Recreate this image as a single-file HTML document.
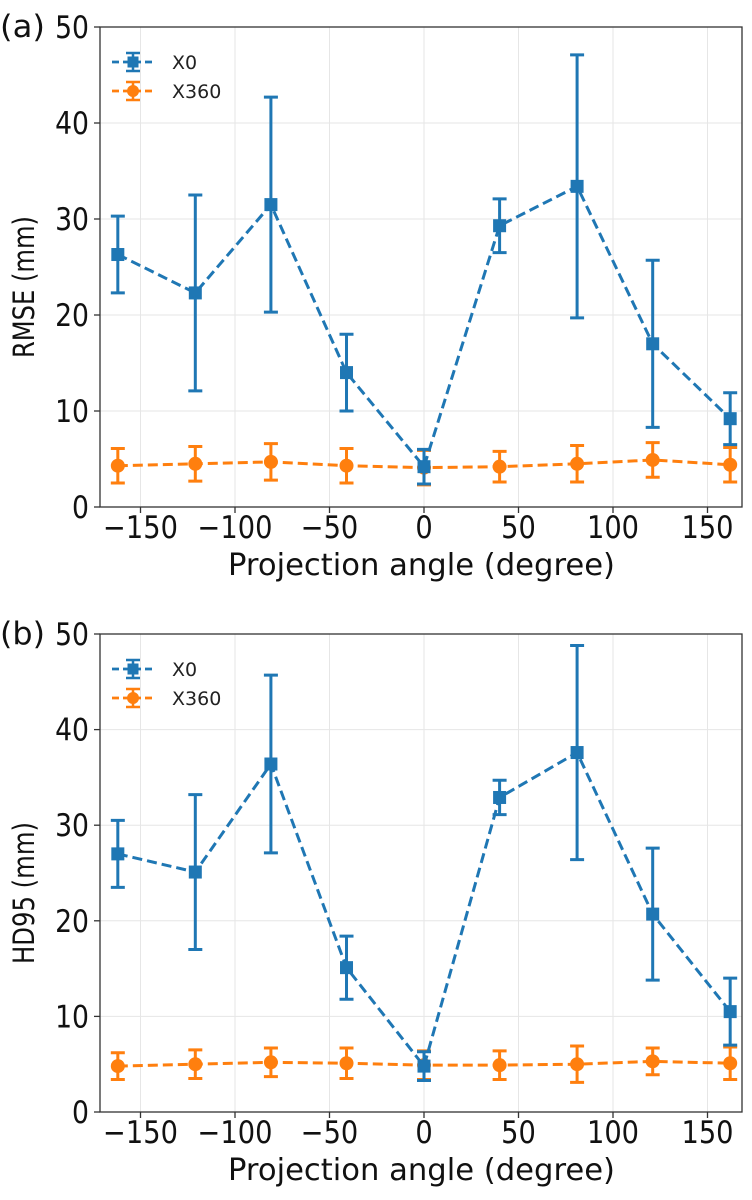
<!DOCTYPE html>
<html><head><meta charset="utf-8"><style>
body{margin:0;background:#fff}
svg{display:block;font-family:"DejaVu Sans","Liberation Sans",sans-serif}
</style></head><body>
<svg id="c" width="752" height="1200"></svg>
<script>
const angles=[-162,-121,-81,-41,0,40,81,121,162];
const rmseX0=[26.3,22.3,31.5,14.0,4.2,29.3,33.4,17.0,9.2];
const rmseX0Err=[4.0,10.2,11.2,4.0,1.8,2.8,13.7,8.7,2.7];
const rmseX360=[4.3,4.5,4.7,4.3,4.1,4.2,4.5,4.9,4.4];
const rmseX360Err=[1.8,1.8,1.9,1.8,1.8,1.6,1.9,1.8,1.8];
const hdX0=[27.0,25.1,36.4,15.1,4.8,32.9,37.6,20.7,10.5];
const hdX0Err=[3.5,8.1,9.3,3.3,1.5,1.8,11.2,6.9,3.5];
const hdX360=[4.8,5.0,5.2,5.1,4.9,4.9,5.0,5.3,5.1];
const hdX360Err=[1.4,1.5,1.5,1.6,1.5,1.5,1.9,1.4,1.7];
const xTicks=[-150,-100,-50,0,50,100,150];
const xTickLabels=["\u2212150","\u2212100","\u221250","0","50","100","150"];
const yTicks=[0,10,20,30,40,50];
const NS="http://www.w3.org/2000/svg";
const svg=document.getElementById('c');
function mk(t,a,p){const e=document.createElementNS(NS,t);for(const k in a)e.setAttribute(k,a[k]);(p||svg).appendChild(e);return e;}
const L=100,R=742,x0=424,pxDeg=1.89;
function X(v){return x0+v*pxDeg;}
function panel(top,bot,tag,ylabel,ylen,s1,e1,s2,e2,pname){
  const g=mk('g',{});
  
  
  const Y=v=>bot-(v/50)*(bot-top);
  xTicks.forEach((t,i)=>{
    const gl=mk('line',{x1:X(t),x2:X(t),y1:top,y2:bot,stroke:'#e6e6e6','stroke-width':1},g);
    
    mk('line',{x1:X(t),x2:X(t),y1:bot,y2:bot+6,stroke:'#333','stroke-width':1.3},g);
    const wg=mk('g',{transform:`translate(${X(t)},${bot+31}) scale(0.88,1)`},g);
    const tx=mk('text',{x:0,y:0,'font-size':31,'text-anchor':'middle',fill:'#111'},wg);tx.textContent=xTickLabels[i];
    
  });
  yTicks.forEach(t=>{
    const gl=mk('line',{x1:L,x2:R,y1:Y(t),y2:Y(t),stroke:'#e6e6e6','stroke-width':1},g);
    
    mk('line',{x1:L-6,x2:L,y1:Y(t),y2:Y(t),stroke:'#333','stroke-width':1.3},g);
    const wg=mk('g',{transform:`translate(${L-11},${Y(t)+11}) scale(0.86,1)`},g);
    const tx=mk('text',{x:0,y:0,'font-size':31,'text-anchor':'end',fill:'#111'},wg);tx.textContent=t;
    
  });
  const fr=mk('rect',{x:L,y:top,width:R-L,height:bot-top,fill:'none',stroke:'#333','stroke-width':1.3},g);
  
  const xl=mk('text',{x:228,y:bot+68,'font-size':30,fill:'#111',textLength:387,lengthAdjust:'spacingAndGlyphs'},g);xl.textContent='Projection angle (degree)';
  
  const cy=(top+bot)/2+20;
  const yl=mk('text',{x:34,y:cy,'font-size':29,'text-anchor':'middle',fill:'#111',textLength:ylen,lengthAdjust:'spacingAndGlyphs',transform:`rotate(-90 34 ${cy})`},g);yl.textContent=ylabel;
  
  const tg=mk('text',{x:0,y:top+10,'font-size':31,fill:'#111',textLength:45,lengthAdjust:'spacingAndGlyphs'},g);tg.textContent=tag;
  
  function series(vals,errs,color,marker,name){
    const sg=mk('g',{},g);
    
    vals.forEach((v,i)=>{
      const x=X(angles[i]);
      const eb=mk('path',{d:`M${x},${Y(v-errs[i])}V${Y(v+errs[i])}M${x-7},${Y(v-errs[i])}H${x+7}M${x-7},${Y(v+errs[i])}H${x+7}`,stroke:color,'stroke-width':3,fill:'none'},sg);
      
    });
    const pl=mk('polyline',{points:vals.map((v,i)=>X(angles[i])+','+Y(v)).join(' '),fill:'none',stroke:color,'stroke-width':3,'stroke-dasharray':'10,5'},sg);
    
    vals.forEach((v,i)=>{
      const x=X(angles[i]);let m;
      if(marker==='s')m=mk('rect',{x:x-6.5,y:Y(v)-6.5,width:13,height:13,fill:color},sg);
      else m=mk('circle',{cx:x,cy:Y(v),r:7,fill:color},sg);
      
    });
  }
  series(s2,e2,'#ff7f0e','o','series-x360');
  series(s1,e1,'#1f77b4','s','series-x0');
  const lg=mk('g',{},g);
  
  [['X0','#1f77b4','s',top+35],['X360','#ff7f0e','o',top+64]].forEach(([lab,c,m,y])=>{
    mk('line',{x1:112,x2:152,y1:y,y2:y,stroke:c,'stroke-width':2.8,'stroke-dasharray':'7,4'},lg);
    mk('path',{d:`M133,${y-9}V${y+9}M126,${y-9}H140M126,${y+9}H140`,stroke:c,'stroke-width':2.5},lg);
    if(m==='s')mk('rect',{x:127.5,y:y-5.5,width:11,height:11,fill:c},lg);else mk('circle',{cx:133,cy:y,r:6,fill:c},lg);
    const t=mk('text',{x:172,y:y+7,'font-size':19,fill:'#222'},lg);t.textContent=lab;
    
  });
}
panel(27,507,'(a)','RMSE (mm)',142,rmseX0,rmseX0Err,rmseX360,rmseX360Err,'panel-rmse');
panel(634,1112,'(b)','HD95 (mm)',142,hdX0,hdX0Err,hdX360,hdX360Err,'panel-hd95');
</script>
</body></html>
